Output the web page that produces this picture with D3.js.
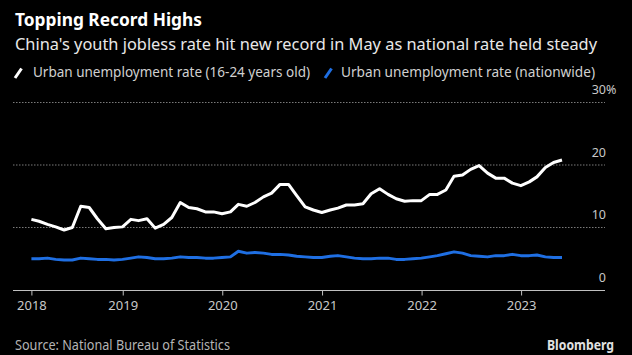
<!DOCTYPE html>
<html>
<head>
<meta charset="utf-8">
<script src="https://cdn.jsdelivr.net/npm/d3@7"></script>
<style>
  html, body { margin: 0; padding: 0; background: #000; }
  svg { display: block; }
  text { font-family: "Noto Sans", "Open Sans", sans-serif; }
</style>
</head>
<body>
<svg id="chart" width="632" height="355"></svg>
<script>
// ---- data ----
const startMonth = "2018-01";
const youthRate = [
  11.3, 11.0, 10.5, 10.1, 9.6, 10.0, 13.4, 13.2, 11.4, 9.8, 10.0, 10.1,
  11.3, 11.1, 11.4, 9.9, 10.5, 11.6, 14.0, 13.2, 13.0, 12.5, 12.5, 12.2,
  12.5, 13.7, 13.4, 14.0, 14.9, 15.5, 16.9, 16.9, 15.1, 13.3, 12.8, 12.4,
  12.8, 13.1, 13.6, 13.6, 13.8, 15.4, 16.2, 15.3, 14.6, 14.2, 14.3, 14.3,
  15.3, 15.3, 16.0, 18.2, 18.4, 19.3, 19.9, 18.7, 17.9, 17.9, 17.1, 16.7,
  17.3, 18.1, 19.6, 20.4, 20.8
];
const nationalRate = [
  5.0, 5.0, 5.1, 4.9, 4.8, 4.8, 5.1, 5.0, 4.9, 4.9, 4.8, 4.9,
  5.1, 5.3, 5.2, 5.0, 5.0, 5.1, 5.3, 5.2, 5.2, 5.1, 5.1, 5.2,
  5.3, 6.2, 5.9, 6.0, 5.9, 5.7, 5.7, 5.6, 5.4, 5.3, 5.2, 5.2,
  5.4, 5.5, 5.3, 5.1, 5.0, 5.0, 5.1, 5.1, 4.9, 4.9, 5.0, 5.1,
  5.3, 5.5, 5.8, 6.1, 5.9, 5.5, 5.4, 5.3, 5.5, 5.5, 5.7, 5.5,
  5.5, 5.6, 5.3, 5.2, 5.2
];
const seriesNames = ["Urban unemployment rate (16-24 years old)", "Urban unemployment rate (nationwide)"];
const seriesColors = ["#ffffff", "#1f6fe3"];
const xTickDates = ["2018-01-31", "2019-01-01", "2020-01-01", "2021-01-01", "2022-01-01", "2023-01-01"];
const xTickLabels = ["2018", "2019", "2020", "2021", "2022", "2023"];
const yTicks = [0, 10, 20, 30];
const titleText = "Topping Record Highs";
const subtitleText = "China's youth jobless rate hit new record in May as national rate held steady";
const sourceText = "Source: National Bureau of Statistics";
const brandText = "Bloomberg";

// ---- build dates (month-end) ----
const parse = d3.utcParse("%Y-%m-%d");
const start = d3.utcParse("%Y-%m")(startMonth);
const dates = youthRate.map((_, i) => d3.utcDay.offset(d3.utcMonth.offset(start, i + 1), -1));

const svg = d3.select("#chart");
svg.append("rect").attr("width", 632).attr("height", 355).attr("fill", "#000");

// ---- scales ----
const x = d3.scaleUtc()
  .domain([dates[0], dates[dates.length - 1]])
  .range([31.4, 562]);
const y = d3.scaleLinear().domain([0, 30]).range([290, 102.5]);
const plotLeft = 13, plotRight = 605;

// ---- title block ----
svg.append("text").attr("x", 15).attr("y", 26)
  .attr("fill", "#ffffff").attr("font-size", 17).attr("font-weight", 700)
  .attr("textLength", 187).attr("lengthAdjust", "spacingAndGlyphs")
  .text(titleText);
svg.append("text").attr("x", 15).attr("y", 50)
  .attr("fill", "#e8e8e8").attr("font-size", 17)
  .attr("textLength", 582).attr("lengthAdjust", "spacingAndGlyphs")
  .text(subtitleText);

// ---- legend ----
const legendItems = [
  { icon: 15, textX: 33, width: 277 },
  { icon: 325, textX: 341, width: 254 }
];
legendItems.forEach((it, i) => {
  svg.append("line")
    .attr("x1", it.icon).attr("y1", 78).attr("x2", it.icon + 6.5).attr("y2", 68.5)
    .attr("stroke", seriesColors[i]).attr("stroke-width", 3).attr("stroke-linecap", "butt");
  svg.append("text").attr("x", it.textX).attr("y", 77)
    .attr("fill", "#d0d0d0").attr("font-size", 13.5)
    .attr("textLength", it.width).attr("lengthAdjust", "spacingAndGlyphs")
    .text(seriesNames[i]);
});

// ---- gridlines ----
svg.append("g").selectAll("line").data(yTicks.filter(d => d !== 0)).join("line")
  .attr("x1", plotLeft).attr("x2", plotRight)
  .attr("y1", d => y(d)).attr("y2", d => y(d))
  .attr("stroke", "#7a7a7a").attr("stroke-width", 1).attr("stroke-dasharray", "1.5,1.5");

// ---- y labels ----
const yl = svg.append("g");
yTicks.forEach(t => {
  yl.append("text").attr("x", 606).attr("y", y(t) - 8.5)
    .attr("text-anchor", "end").attr("fill", "#c8c8c8").attr("font-size", 12.5)
    .text(t);
  if (t === 30) {
    yl.append("text").attr("x", 606).attr("y", y(t) - 8.5)
      .attr("fill", "#c8c8c8").attr("font-size", 12.5).text("%");
  }
});

// ---- x axis ----
svg.append("line").attr("x1", plotLeft).attr("x2", plotRight)
  .attr("y1", y(0) + 0.5).attr("y2", y(0) + 0.5)
  .attr("stroke", "#c0c0c0").attr("stroke-width", 1);
const xAxis = d3.axisBottom(x)
  .tickValues(xTickDates.map(parse))
  .tickFormat((d, i) => xTickLabels[i])
  .tickSize(5).tickPadding(5);
const gx = svg.append("g").attr("transform", `translate(0,${y(0) + 0.5})`).call(xAxis);
gx.select(".domain").remove();
gx.selectAll(".tick line").attr("stroke", "#c0c0c0");
gx.selectAll(".tick text").attr("fill", "#c8c8c8").attr("font-size", 13)
  .attr("font-family", "Noto Sans, sans-serif");

// ---- lines ----
const line = d3.line().x((d, i) => x(dates[i])).y(d => y(d)).curve(d3.curveLinear);
[nationalRate, youthRate].forEach((s, k) => {
  svg.append("path").datum(s)
    .attr("fill", "none")
    .attr("stroke", k === 0 ? seriesColors[1] : seriesColors[0])
    .attr("stroke-width", 3)
    .attr("stroke-linejoin", "round")
    .attr("stroke-linecap", "butt")
    .attr("d", line);
});

// ---- footer ----
svg.append("text").attr("x", 15).attr("y", 350)
  .attr("fill", "#b4b4b4").attr("font-size", 13.5)
  .attr("textLength", 215).attr("lengthAdjust", "spacingAndGlyphs")
  .text(sourceText);
svg.append("text").attr("x", 614).attr("y", 350).attr("text-anchor", "end")
  .attr("fill", "#e0e0e0").attr("font-size", 13.5).attr("font-weight", 700)
  .attr("textLength", 67).attr("lengthAdjust", "spacingAndGlyphs")
  .text(brandText);
</script>
</body>
</html>
